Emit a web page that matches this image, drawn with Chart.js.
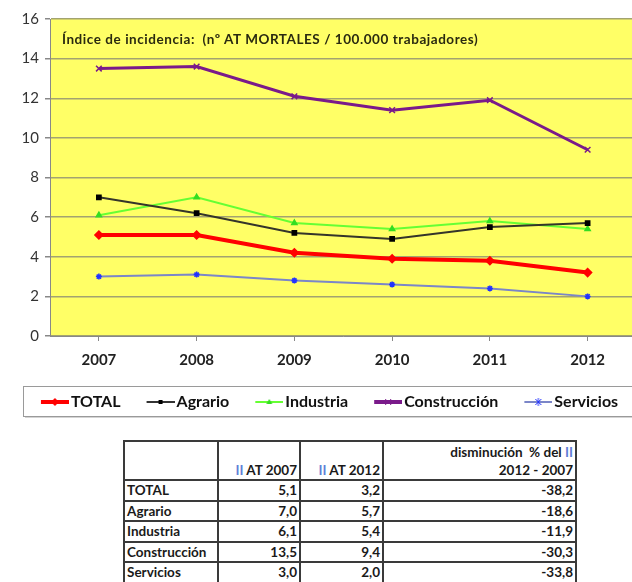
<!DOCTYPE html>
<html>
<head>
<meta charset="utf-8">
<script src="https://cdn.jsdelivr.net/npm/chart.js@4.4.1/dist/chart.umd.min.js"></script>
<style>
    html, body { margin: 0; padding: 0; background: #fff; width: 632px; height: 582px; overflow: hidden; }
    #wrap { position: absolute; left: 0; top: 0; width: 642px; height: 420px; }
    #plotTitle { position: absolute; left: 62px; top: 31px; z-index: 2; font: bold 13.5px Lato, sans-serif; letter-spacing: 0.55px; color: #2a2a10; white-space: pre; }
    #tbl { position: absolute; left: 123px; top: 440px; border-collapse: collapse; font: bold 13.5px Lato, sans-serif; color: #1a1a1a; }
    #tbl td { border: 2px solid #3a3a3a; padding: 0 2px; height: 18.5px; line-height: 18px; text-align: right; }
    #tbl td.name { text-align: left; }
    #tbl tr.head td { height: 37px; vertical-align: bottom; line-height: 18px; }
    #tbl .ii { color: #5f7fd6; }
</style>
</head>
<body>
<div id="wrap"><canvas id="chart"></canvas></div>
<div id="plotTitle">Índice de incidencia:  (nº AT MORTALES / 100.000 trabajadores)</div>
<table id="tbl"></table>
<script>
// chart data
const years = ['2007', '2008', '2009', '2010', '2011', '2012'];
const total = [5.1, 5.1, 4.2, 3.9, 3.8, 3.2];
const agrario = [7.0, 6.2, 5.2, 4.9, 5.5, 5.7];
const industria = [6.1, 7.0, 5.7, 5.4, 5.8, 5.4];
const construccion = [13.5, 13.6, 12.1, 11.4, 11.9, 9.4];
const servicios = [3.0, 3.1, 2.8, 2.6, 2.4, 2.0];

// table data
const tableRows = ['TOTAL', 'Agrario', 'Industria', 'Construcción', 'Servicios'];
const ii2007 = ['5,1', '7,0', '6,1', '13,5', '3,0'];
const ii2012 = ['3,2', '5,7', '5,4', '9,4', '2,0'];
const disminucion = ['-38,2', '-18,6', '-11,9', '-30,3', '-33,8'];

// build the table
const tbl = document.getElementById('tbl');
let html = '<tr class="head"><td style="width:88px"></td>' +
    '<td style="width:76px"><span class="ii">II</span> AT 2007</td>' +
    '<td style="width:77px"><span class="ii">II</span> AT 2012</td>' +
    '<td style="width:187px">disminución&nbsp; % del <span class="ii">II</span><br>2012 - 2007</td></tr>';
tableRows.forEach((name, i) => {
    html += '<tr><td class="name">' + name + '</td><td>' + ii2007[i] + '</td><td>' +
        ii2012[i] + '</td><td>' + disminucion[i] + '</td></tr>';
});
tbl.innerHTML = html;

// little line+marker icons for the legend (left part left empty on purpose)
function legendIcon(color, lineWidth, marker, markerColor) {
    const c = document.createElement('canvas');
    c.width = 38;
    c.height = 12;
    const g = c.getContext('2d');
    g.strokeStyle = color;
    g.lineWidth = lineWidth;
    g.beginPath();
    g.moveTo(10, 6);
    g.lineTo(38, 6);
    g.stroke();
    g.fillStyle = markerColor;
    g.strokeStyle = markerColor;
    g.lineWidth = 1;
    g.beginPath();
    const m = 24;
    if (marker === 'rectRot') {
        g.moveTo(m, 2); g.lineTo(m + 4, 6); g.lineTo(m, 10); g.lineTo(m - 4, 6); g.closePath(); g.fill();
    } else if (marker === 'rect') {
        g.fillRect(m - 2, 4, 4, 4);
    } else if (marker === 'triangle') {
        g.moveTo(m, 3); g.lineTo(m + 3, 8); g.lineTo(m - 3, 8); g.closePath(); g.fill();
    } else if (marker === 'crossRot') {
        g.moveTo(m - 3, 3); g.lineTo(m + 3, 9); g.moveTo(m + 3, 3); g.lineTo(m - 3, 9); g.stroke();
    } else {
        g.moveTo(m - 3, 3); g.lineTo(m + 3, 9); g.moveTo(m + 3, 3); g.lineTo(m - 3, 9);
        g.moveTo(m, 2); g.lineTo(m, 10); g.stroke();
    }
    return c;
}

const legendIcons = [
    legendIcon('#ff0000', 4, 'rectRot', '#ff0000'),
    legendIcon('#333333', 2, 'rect', '#000000'),
    legendIcon('#66ff33', 2, 'triangle', '#33dd22'),
    legendIcon('#7a1a8a', 4, 'crossRot', '#7a1a8a'),
    legendIcon('#7b86c8', 2, 'star', '#2233ff')
];

// yellow plot background + frame behind the legend
const backdrop = {
    id: 'backdrop',
    afterLayout(chart) {
        // nudge the legend row a bit to the right, like the original
        chart.legend.left += 7;
        chart.legend.right += 7;
    },
    beforeDraw(chart) {
        const a = chart.chartArea;
        const ctx = chart.ctx;
        ctx.save();
        ctx.fillStyle = '#ffff66';
        ctx.fillRect(a.left, a.top, a.right - a.left, a.bottom - a.top);

        const top = 386;
        const h = 30;
        ctx.fillStyle = '#d4d4d4';
        ctx.fillRect(25, top + 2, 640, h);
        ctx.fillStyle = '#fff';
        ctx.fillRect(23, top, 640, h);
        ctx.strokeStyle = '#9a9a9a';
        ctx.lineWidth = 1;
        ctx.strokeRect(23.5, top + 0.5, 640, h);
        ctx.restore();
    }
};

function lineSet(label, data, color, width, marker, markerColor, radius) {
    return {
        label: label,
        data: data,
        borderColor: color,
        backgroundColor: markerColor,
        borderWidth: width,
        pointStyle: marker,
        pointRadius: radius,
        pointBorderColor: markerColor,
        pointBackgroundColor: markerColor,
        pointBorderWidth: 1.5,
        tension: 0
    };
}

const chart = new Chart(document.getElementById('chart'), {
    type: 'line',
    data: {
        labels: years,
        datasets: [
            lineSet('TOTAL', total, '#ff0000', 4, 'rectRot', '#ff0000', 4),
            lineSet('Agrario', agrario, '#35352a', 2, 'rect', '#000000', 3),
            lineSet('Industria', industria, '#66ff33', 2, 'triangle', '#33dd22', 3),
            lineSet('Construcción', construccion, '#7a1a8a', 3, 'crossRot', '#7a1a8a', 4),
            lineSet('Servicios', servicios, '#7b86c8', 2, 'star', '#2233ff', 3)
        ]
    },
    options: {
        responsive: true,
        maintainAspectRatio: false,
        animation: false,
        layout: { padding: { left: 0, right: 1, top: 19, bottom: 0 } },
        plugins: {
            title: { display: false },
            tooltip: { enabled: false },
            legend: {
                position: 'bottom',
                labels: {
                    usePointStyle: true,
                    pointStyleWidth: 26,
                    padding: 22,
                    color: '#111',
                    font: { family: 'Lato', size: 16, weight: 'bold' },
                    generateLabels: function(chart) {
                        const items = Chart.defaults.plugins.legend.labels.generateLabels(chart);
                        items.forEach((item, i) => { item.pointStyle = legendIcons[i]; });
                        return items;
                    }
                }
            }
        },
        scales: {
            x: {
                offset: true,
                grid: { drawOnChartArea: false, tickLength: 5, color: '#888' },
                border: { color: '#888' },
                ticks: {
                    padding: 10,
                    color: '#222',
                    font: { family: 'Lato', size: 15, weight: 'bold' }
                },
                afterFit(scale) { scale.height = 36; }
            },
            y: {
                min: 0,
                max: 16,
                grid: { color: '#a3a370', lineWidth: 1.5, tickLength: 5, tickColor: '#888' },
                border: { color: '#888' },
                ticks: {
                    stepSize: 2,
                    padding: 6,
                    color: '#333',
                    font: { family: 'Lato', size: 15 }
                },
                afterFit(scale) { scale.width = 50; }
            }
        }
    },
    plugins: [backdrop]
});
</script>
</body>
</html>
